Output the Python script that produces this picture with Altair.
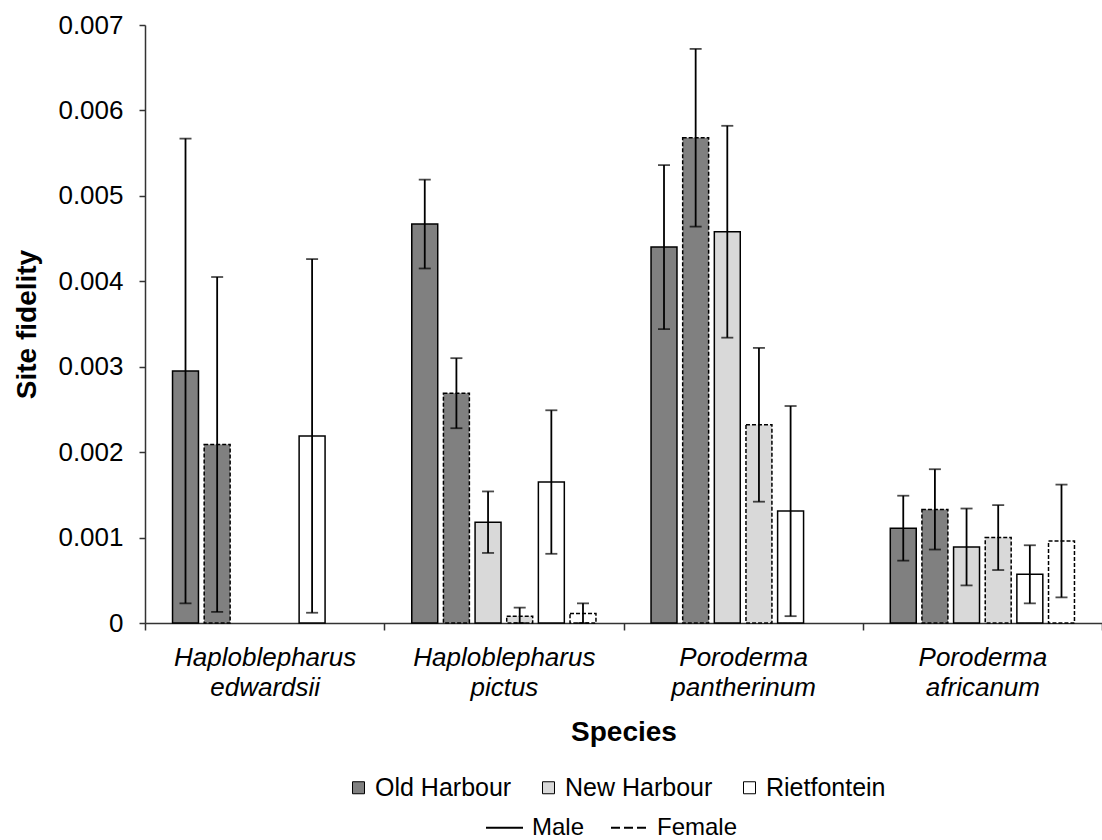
import altair as alt
import pandas as pd

# ---- data (site fidelity) ----
species = ["Haploblepharus edwardsii", "Haploblepharus pictus",
           "Poroderma pantherinum", "Poroderma africanum"]
sites = ["Old Harbour", "New Harbour", "Rietfontein"]
sexes = ["Male", "Female"]

# order of bars inside a group: OH-M, OH-F, NH-M, NH-F, RF-M, RF-F
ed_mean = [0.00295, 0.00209, None, None, 0.00219, None]
ed_err = [0.00272, 0.00196, None, None, 0.00207, None]
pi_mean = [0.00467, 0.00269, 0.00118, 0.00008, 0.00165, 0.00011]
pi_err = [0.00052, 0.00041, 0.00036, 0.00010, 0.00084, 0.00012]
pa_mean = [0.00440, 0.00568, 0.00458, 0.00232, 0.00131, None]
pa_err = [0.00096, 0.00104, 0.00124, 0.00090, 0.00123, None]
af_mean = [0.00111, 0.00133, 0.00089, 0.00100, 0.00057, 0.00096]
af_err = [0.00038, 0.00047, 0.00045, 0.00038, 0.00034, 0.00066]

y_ticks = [0, 0.001, 0.002, 0.003, 0.004, 0.005, 0.006, 0.007]

series = [f"{s} {x}" for s in sites for x in sexes]
rows = []
for sp, means, errs in zip(species, [ed_mean, pi_mean, pa_mean, af_mean],
                           [ed_err, pi_err, pa_err, af_err]):
    for i, (m, e) in enumerate(zip(means, errs)):
        if m is None:
            continue
        rows.append({
            "species": sp,
            "series": series[i],
            "site": sites[i // 2],
            "sex": sexes[i % 2],
            "value": m,
            "low": max(0.0, m - e),
            "high": m + e,
        })
df = pd.DataFrame(rows)
sex_df = pd.DataFrame({"sex_key": sexes})

FONT = "Liberation Sans"

x_enc = alt.X("species:N", sort=species,
              scale=alt.Scale(paddingInner=0, paddingOuter=0),
              axis=alt.Axis(title="Species", tickBand="extent", tickSize=7,
                            labelExpr="split(datum.label, ' ')",
                            labelAngle=0, labelFontStyle="italic",
                            labelFontSize=26, labelFont=FONT, labelColor="#000",
                            labelLineHeight=30, labelPadding=14, labelLimit=400,
                            titleFont=FONT, titleFontSize=28, titleFontWeight="bold",
                            titleColor="#000", titlePadding=18,
                            domainColor="#333", tickColor="#333",
                            domainWidth=1.5, tickWidth=1.5, grid=False))
xo_enc = alt.XOffset("series:N", sort=series,
                     scale=alt.Scale(domain=series, paddingInner=0.18, paddingOuter=0.87))
y_scale = alt.Scale(domain=[0, 0.007], nice=False, zero=True)

bars = alt.Chart(df).mark_bar(stroke="black", strokeWidth=1.5).encode(
    x=x_enc,
    xOffset=xo_enc,
    y=alt.Y("value:Q", scale=y_scale,
            axis=alt.Axis(title="Site fidelity", values=y_ticks, tickSize=6,
                          labelExpr="datum.value == 0 ? '0' : format(datum.value, '.3f')",
                          labelFont=FONT, labelFontSize=26, labelColor="#000",
                          labelPadding=16, titleFont=FONT, titleFontSize=28,
                          titleFontWeight="bold", titleColor="#000", titlePadding=16,
                          domainColor="#333", tickColor="#333",
                          domainWidth=1.5, tickWidth=1.5, grid=False)),
    fill=alt.Fill("site:N", scale=alt.Scale(domain=sites,
                                            range=["#808080", "#d9d9d9", "#ffffff"]),
                  legend=alt.Legend(title=None, orient="none", direction="horizontal",
                                    legendX=201, legendY=750, symbolType="square",
                                    symbolSize=144, symbolStrokeColor="black",
                                    symbolStrokeWidth=1, labelFont=FONT,
                                    labelFontSize=25, labelColor="#000",
                                    labelOffset=4, columnPadding=24, padding=0,
                                    symbolOpacity=1, labelLimit=400)),
    strokeDash=alt.StrokeDash("sex:N", scale=alt.Scale(domain=sexes,
                                                       range=[[1, 0], [4, 2]]),
                              legend=None),
)

err_rule = alt.Chart(df).mark_rule(color="black", strokeWidth=1.8).encode(
    x=alt.X("species:N", sort=species),
    xOffset=alt.XOffset("series:N", sort=series),
    y=alt.Y("low:Q", scale=y_scale),
    y2="high:Q",
)
cap_hi = alt.Chart(df).mark_tick(color="black", thickness=1.8, size=12).encode(
    x=alt.X("species:N", sort=species),
    xOffset=alt.XOffset("series:N", sort=series),
    y=alt.Y("high:Q", scale=y_scale),
)
cap_lo = alt.Chart(df).mark_tick(color="black", thickness=1.8, size=12).encode(
    x=alt.X("species:N", sort=species),
    xOffset=alt.XOffset("series:N", sort=series),
    y=alt.Y("low:Q", scale=y_scale),
)

sex_legend = alt.Chart(sex_df).mark_point(opacity=0).encode(
    x=alt.value(0),
    y=alt.value(0),
    strokeDash=alt.StrokeDash("sex_key:N",
                              scale=alt.Scale(domain=sexes, range=[[1, 0], [9, 4]]),
                              legend=alt.Legend(title=None, orient="none",
                                                direction="horizontal",
                                                legendX=340, legendY=783,
                                                symbolType="stroke", symbolSize=1369,
                                                symbolStrokeColor="black",
                                                symbolStrokeWidth=2, symbolOpacity=1,
                                                labelFont=FONT, labelFontSize=24,
                                                labelColor="#000", labelOffset=8,
                                                columnPadding=22, padding=0,
                                                labelLimit=400)),
)

chart = alt.layer(bars, err_rule, cap_hi, cap_lo, sex_legend).resolve_scale(
    strokeDash="independent"
).properties(
    width=957, height=598,
    autosize=alt.AutoSizeParams(type="none"),
    padding={"left": 145, "top": 25, "right": 0, "bottom": 217},
    background="white",
).configure_view(stroke=None)

chart.save("out.html", embed_options={"renderer": "svg", "actions": False})
